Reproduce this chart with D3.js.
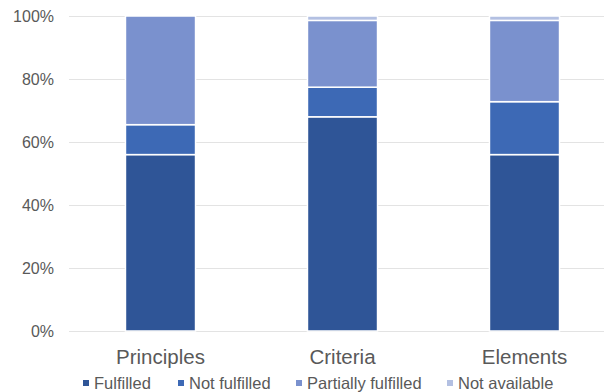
<!DOCTYPE html>
<html><head><meta charset="utf-8">
<script src="https://cdn.jsdelivr.net/npm/d3@7"></script>
<style>body{margin:0;background:#fff}svg{display:block}text{font-family:"Liberation Sans",Arial,sans-serif;fill:#595959}</style>
</head><body><svg id="c" width="604" height="392"></svg>
<script>
const categories = ["Principles", "Criteria", "Elements"];
const seriesNames = ["Fulfilled", "Not fulfilled", "Partially fulfilled", "Not available"];
const fulfilled = [56, 68, 56];
const notFulfilled = [9.5, 9.4, 16.8];
const partiallyFulfilled = [34.5, 21.2, 25.8];
const notAvailable = [0, 1.4, 1.4];
const yTicks = [0, 20, 40, 60, 80, 100];
const colors = ["#2F5597", "#3D69B5", "#7A91CE", "#B3C0E2"];

const svg = d3.select("#c");
const x = d3.scaleBand().domain(categories).range([69.5, 615.5]).paddingInner(0.615).paddingOuter(0.3075);
const y = d3.scaleLinear().domain([0, 100]).range([331, 16]);

const rows = categories.map((c, i) => ({cat: c, "Fulfilled": fulfilled[i], "Not fulfilled": notFulfilled[i], "Partially fulfilled": partiallyFulfilled[i], "Not available": notAvailable[i]}));
const stacked = d3.stack().keys(seriesNames)(rows);

// gridlines
svg.append("g").selectAll("line").data(yTicks).join("line")
  .attr("x1", 69).attr("x2", 604)
  .attr("y1", d => Math.round(y(d)) + 0.5).attr("y2", d => Math.round(y(d)) + 0.5)
  .attr("stroke", "#e3e3e3").attr("stroke-width", 1);

// y labels
const ya = svg.append("g").attr("transform", "translate(54,0)")
  .call(d3.axisLeft(y).tickValues(yTicks).tickFormat(d => d + "%").tickSize(0).tickPadding(0));
ya.select(".domain").remove();
ya.selectAll("text").attr("font-size", 16).style("fill", "#595959").attr("dy", "0.35em");

// bars
svg.append("g").selectAll("g").data(stacked).join("g")
  .attr("fill", (d, i) => colors[i])
  .selectAll("rect").data(d => d).join("rect")
  .attr("x", d => x(d.data.cat))
  .attr("width", x.bandwidth())
  .attr("y", d => y(d[1]))
  .attr("height", d => Math.max(0, y(d[0]) - y(d[1])))
  .attr("stroke", "#fff").attr("stroke-width", 1.5);

// x labels
const xa = svg.append("g").attr("transform", "translate(0,331)")
  .call(d3.axisBottom(x).tickSize(0).tickPadding(0));
xa.select(".domain").remove();
xa.selectAll("text").attr("font-size", 20.5).attr("dy", null).attr("y", 33).style("fill", "#595959");

// legend
const legendX = [83, 178, 296, 447];
const lg = svg.append("g").selectAll("g").data(seriesNames).join("g")
  .attr("transform", (d, i) => `translate(${legendX[i]},0)`);
lg.append("rect").attr("x", 0).attr("y", 380).attr("width", 6).attr("height", 6).attr("fill", (d, i) => colors[i]);
lg.append("text").attr("x", 11).attr("y", 389).attr("font-size", 16.5).text(d => d);
</script></body></html>
